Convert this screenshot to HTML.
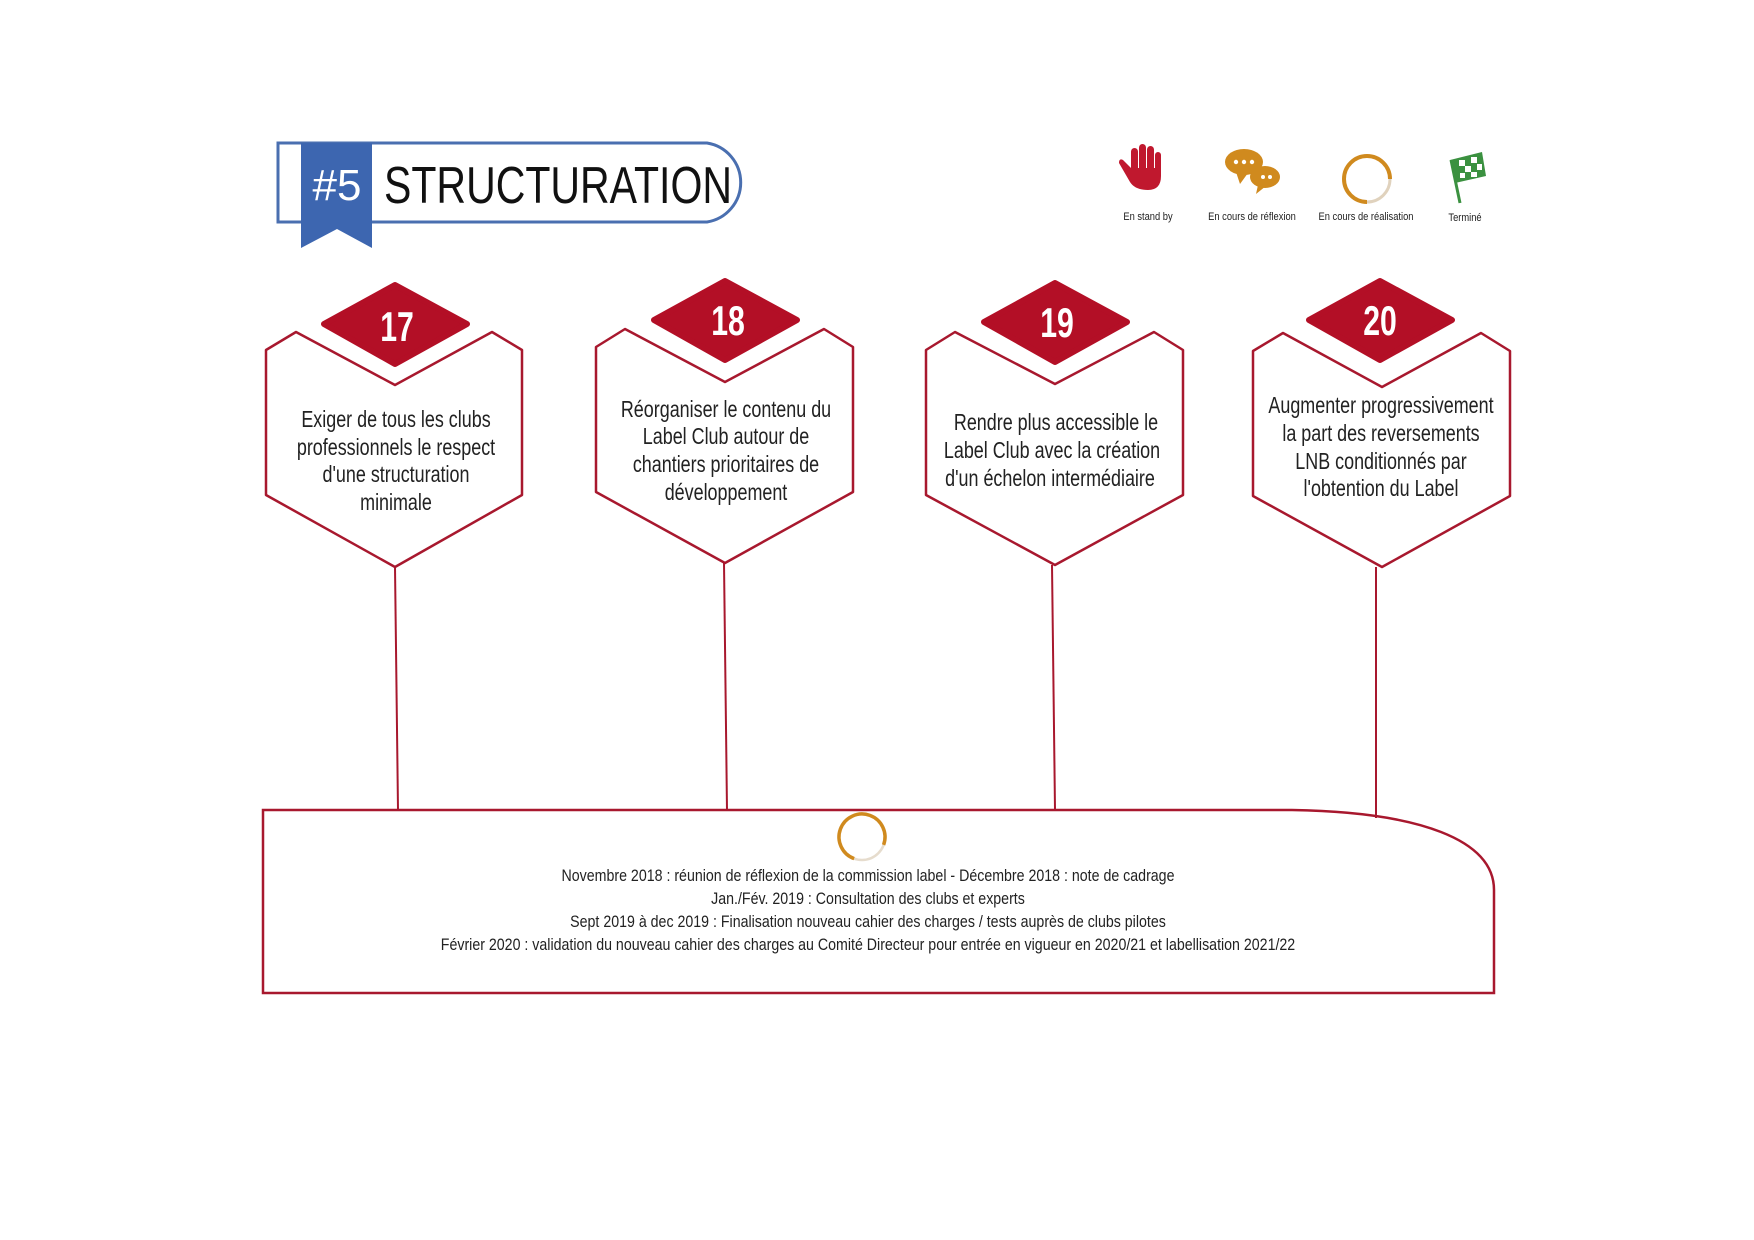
<!DOCTYPE html>
<html><head><meta charset="utf-8"><style>
html,body{margin:0;padding:0;background:#fff;}
svg{display:block;}
text{font-family:"Liberation Sans",sans-serif;}
</style></head><body>
<svg width="1754" height="1240" viewBox="0 0 1754 1240" xmlns="http://www.w3.org/2000/svg">
<!-- header -->
<path d="M278 143 H707 A40 40 0 0 1 707 222 H278 Z" fill="#fff" stroke="#4a6fb0" stroke-width="3"/>
<path d="M301 143 H372 V248 L337 229 L301 248 Z" fill="#3d66b0"/>
<text x="337" y="200" font-size="44" fill="#fff" text-anchor="middle">#5</text>
<text x="384" y="203" font-size="52" fill="#111" textLength="348" lengthAdjust="spacingAndGlyphs">STRUCTURATION</text>

<!-- legend -->
<g fill="#c0182e">
<rect x="1131" y="148" width="7" height="26" rx="3.5"/>
<rect x="1139" y="144" width="7" height="30" rx="3.5"/>
<rect x="1147" y="146" width="7" height="28" rx="3.5"/>
<rect x="1155" y="152" width="6" height="22" rx="3"/>
<path d="M1131 168 L1123 160 Q1119 158 1119 163 L1130 182 Q1135 190 1148 190 Q1161 190 1161 176 V168 Z"/>
</g>
<g fill="#d08a1e">
<ellipse cx="1244" cy="162" rx="19" ry="13"/>
<path d="M1236 172 L1240 184 L1248 173 Z"/>
<ellipse cx="1265" cy="177" rx="15" ry="11"/>
<path d="M1258 185 L1256 194 L1266 186 Z"/>
</g>
<g fill="#fff"><circle cx="1236" cy="162" r="2.2"/><circle cx="1244" cy="162" r="2.2"/><circle cx="1252" cy="162" r="2.2"/><circle cx="1263" cy="177" r="2"/><circle cx="1270" cy="177" r="2"/></g>
<circle cx="1367" cy="179" r="23" fill="none" stroke="#e0d2bd" stroke-width="3"/>
<path d="M1367 202 A23 23 0 1 1 1390 179" fill="none" stroke="#d08a1e" stroke-width="4"/>
<line x1="1451" y1="160" x2="1460" y2="203" stroke="#3b9140" stroke-width="3"/>
<path d="M1450 160 L1482 152 L1486 176 L1455 183 Z" fill="#3b9140"/>
<g fill="#fff"><rect x="1459" y="160" width="6" height="6"/><rect x="1471" y="157" width="6" height="6"/><rect x="1465" y="166" width="6" height="6"/><rect x="1477" y="164" width="5" height="6"/><rect x="1460" y="173" width="5" height="5"/><rect x="1471" y="172" width="6" height="5"/></g>
<g font-size="11" fill="#222" text-anchor="middle">
<text transform="translate(1148,220) scale(0.85,1)">En stand by</text>
<text transform="translate(1252,220) scale(0.85,1)">En cours de réflexion</text>
<text transform="translate(1366,220) scale(0.85,1)">En cours de réalisation</text>
<text transform="translate(1465,221) scale(0.85,1)">Terminé</text>
</g>

<!-- hexagons -->
<g fill="none" stroke="#a8182e" stroke-width="2.5" stroke-linejoin="round">
<path d="M296 332 L395 385 L492 332 L522 350 L522 495 L395 567 L266 495 L266 350 Z"/>
<path d="M625 329 L725 382 L824 329 L853 347 L853 492 L725 563 L596 492 L596 347 Z"/>
<path d="M955 332 L1055 384 L1154 332 L1183 350 L1183 495 L1055 565 L926 495 L926 350 Z"/>
<path d="M1283 333 L1382 387 L1481 333 L1510 351 L1510 496 L1382 567 L1253 496 L1253 351 Z"/>
</g>
<g fill="#b30f26" stroke="#b30f26" stroke-width="6" stroke-linejoin="round">
<path d="M395 285 L467 324 L395 364 L324 324 Z"/>
<path d="M725 281 L797 320 L725 360 L654 320 Z"/>
<path d="M1055 283 L1127 322 L1055 362 L984 322 Z"/>
<path d="M1380 281 L1452 320 L1380 360 L1309 320 Z"/>
</g>
<g font-size="42" font-weight="bold" fill="#fff" text-anchor="middle">
<text transform="translate(397,341) scale(0.72,1)">17</text>
<text transform="translate(728,335) scale(0.72,1)">18</text>
<text transform="translate(1057,337) scale(0.72,1)">19</text>
<text transform="translate(1380,335) scale(0.72,1)">20</text>
</g>
<g font-size="23" fill="#222" text-anchor="middle">
<text transform="translate(396,427) scale(0.78,1)">Exiger de tous les clubs</text>
<text transform="translate(396,455) scale(0.78,1)">professionnels le respect</text>
<text transform="translate(396,482) scale(0.78,1)">d'une structuration</text>
<text transform="translate(396,510) scale(0.78,1)">minimale</text>
<text transform="translate(726,417) scale(0.78,1)">Réorganiser le contenu du</text>
<text transform="translate(726,444) scale(0.78,1)">Label Club autour de</text>
<text transform="translate(726,472) scale(0.78,1)">chantiers prioritaires de</text>
<text transform="translate(726,500) scale(0.78,1)">développement</text>
<text transform="translate(1056,430) scale(0.78,1)">Rendre plus accessible le</text>
<text transform="translate(1052,458) scale(0.78,1)">Label Club avec la création</text>
<text transform="translate(1050,486) scale(0.78,1)">d'un échelon intermédiaire</text>
<text transform="translate(1381,413) scale(0.78,1)">Augmenter progressivement</text>
<text transform="translate(1381,441) scale(0.78,1)">la part des reversements</text>
<text transform="translate(1381,469) scale(0.78,1)">LNB conditionnés par</text>
<text transform="translate(1381,496) scale(0.78,1)">l'obtention du Label</text>
</g>

<!-- connectors -->
<g stroke="#a8182e" stroke-width="2">
<line x1="395" y1="567" x2="398" y2="810"/>
<line x1="724" y1="563" x2="727" y2="810"/>
<line x1="1052" y1="565" x2="1055" y2="810"/>
<line x1="1376" y1="567" x2="1376" y2="818"/>
</g>

<!-- bottom box -->
<path d="M263 810 H1292 C1420 812 1494 840 1494 890 V993 H263 Z" fill="none" stroke="#a8182e" stroke-width="2.5"/>
<circle cx="862" cy="837" r="23" fill="none" stroke="#e6dccd" stroke-width="2.5"/>
<path d="M862 860 A23 23 0 1 1 885 837" fill="none" stroke="#d08a1e" stroke-width="3.5" transform="rotate(20 862 837)"/>
<g font-size="17" fill="#222" text-anchor="middle">
<text transform="translate(868,881) scale(0.835,1)">Novembre 2018 : réunion de réflexion de la commission label - Décembre 2018 : note de cadrage</text>
<text transform="translate(868,904) scale(0.835,1)">Jan./Fév. 2019 : Consultation des clubs et experts</text>
<text transform="translate(868,927) scale(0.835,1)">Sept 2019 à dec 2019 : Finalisation nouveau cahier des charges / tests auprès de clubs pilotes</text>
<text transform="translate(868,950) scale(0.835,1)">Février 2020 : validation du nouveau cahier des charges au Comité Directeur pour  entrée en vigueur en 2020/21 et labellisation 2021/22</text>
</g>
</svg>
</body></html>
